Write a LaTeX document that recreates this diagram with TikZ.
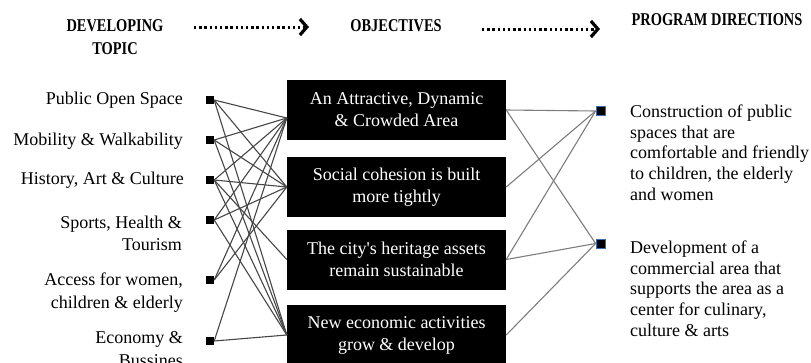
\documentclass[tikz,border=0pt]{standalone}
\usepackage{fontspec}
\setmainfont{Liberation Serif}
\newfontfamily\hdrfont[FakeStretch=0.8]{Liberation Serif}
\usetikzlibrary{arrows.meta}
\definecolor{linkgray}{RGB}{70,70,70}
\definecolor{rlinkgray}{RGB}{125,125,125}
\definecolor{sqedge}{RGB}{60,110,170}
\begin{document}
\begin{tikzpicture}[x=1pt,y=-1pt,
  hdr/.style={font=\hdrfont\bfseries\fontsize{18}{23}\selectfont, align=center, inner sep=0},
  lbl/.style={font=\fontsize{18}{22.5}\selectfont, align=right, anchor=base east, inner sep=0},
  rtxt/.style={font=\fontsize{18}{20.7}\selectfont, align=left, anchor=base west, inner sep=0},
  objbox/.style={fill=black, text=white, minimum width=219pt, minimum height=60pt,
    font=\fontsize{18}{22}\selectfont, align=center, inner sep=0},
  lsq/.style={fill=black, minimum size=8pt, inner sep=0},
  rsq/.style={fill=black, draw=sqedge, line width=0.8pt, minimum size=9pt, inner sep=0},
  link/.style={draw=linkgray, line width=1.1pt},
  rlink/.style={draw=rlinkgray, line width=1.1pt},
  flow/.style={line width=3pt, dash pattern=on 2.4pt off 2.8pt,
    -{Straight Barb[length=7pt,width=16pt,line width=3.2pt]}}
]
\useasboundingbox (0,0) rectangle (811,362);
\clip (0,0) rectangle (811,362);

% headers
\node[hdr] (hdev) at (115,37) {DEVELOPING\\TOPIC};
\node[hdr] (hobj) at (396,26) {OBJECTIVES};
\node[hdr] (hprog) at (717,20) {PROGRAM DIRECTIONS};
\coordinate (f1s) at (194,27);
\coordinate (f1e) at (309,27);
\coordinate (f2s) at (482,29);
\coordinate (f2e) at (600,29);
\draw[flow] (f1s) -- (f1e);
\draw[flow] (f2s) -- (f2e);

% left labels (base anchor = last line)
\node[lbl] (l1) at (183,104.5) {Public Open Space};
\node[lbl] (l2) at (183,145.5) {Mobility \& Walkability};
\node[lbl] (l3) at (184,184.5) {History, Art \& Culture};
\node[lbl] (l4) at (182,250.5) {Sports, Health \&\\Tourism};
\node[lbl] (l5) at (183,308) {Access for women,\\children \& elderly};
\node[lbl] (l6) at (183,366) {Economy \&\\Bussines};

% left squares
\node[lsq] (s1) at (210,100) {};
\node[lsq] (s2) at (210,140) {};
\node[lsq] (s3) at (210,180) {};
\node[lsq] (s4) at (210,220) {};
\node[lsq] (s5) at (210,280) {};
\node[lsq] (s6) at (210,341) {};

% objective boxes
\node[objbox] (b1) at (396.5,110) {An Attractive, Dynamic\\\& Crowded Area};
\node[objbox] (b2) at (396.5,187) {Social cohesion is built\\more tightly};
\node[objbox] (b3) at (396.5,259.5) {The city\textquotesingle s heritage assets\\remain sustainable};
\node[objbox] (b4) at (396.5,335) {New economic activities\\grow \& develop};

\coordinate (b1w) at ([yshift=-8pt]b1.west);

% right squares
\node[rsq] (r1) at (600.5,111) {};
\node[rsq] (r2) at (600.5,243.5) {};

% right texts (base anchor = last line)
\node[rtxt] (t1) at (630,200.3) {Construction of public\\spaces that are\\comfortable and friendly\\to children, the elderly\\and women};
\node[rtxt] (t2) at (630,336.3) {Development of a\\commercial area that\\supports the area as a\\center for culinary,\\culture \& arts};

% left connectors
\foreach \s in {s1,s2,s3,s4,s5,s6}
  \draw[link] (\s.east) -- (b1w);
\foreach \s/\b in {s1/b2,s2/b2,s3/b2,s4/b2,s5/b2,s3/b3,s1/b4,s2/b4,s3/b4,s4/b4,s6/b4}
  \draw[link] (\s.east) -- (\b.west);

% right connectors
\draw[rlink] (b1.east) -- (r1.west);
\draw[rlink] (b1.east) -- (r2.west);
\draw[rlink] (b2.east) -- (r1.west);
\draw[rlink] (b3.east) -- (r1.west);
\draw[rlink] (b3.east) -- (r2.west);
\draw[rlink] (b4.east) -- (r2.west);
\end{tikzpicture}
\end{document}
